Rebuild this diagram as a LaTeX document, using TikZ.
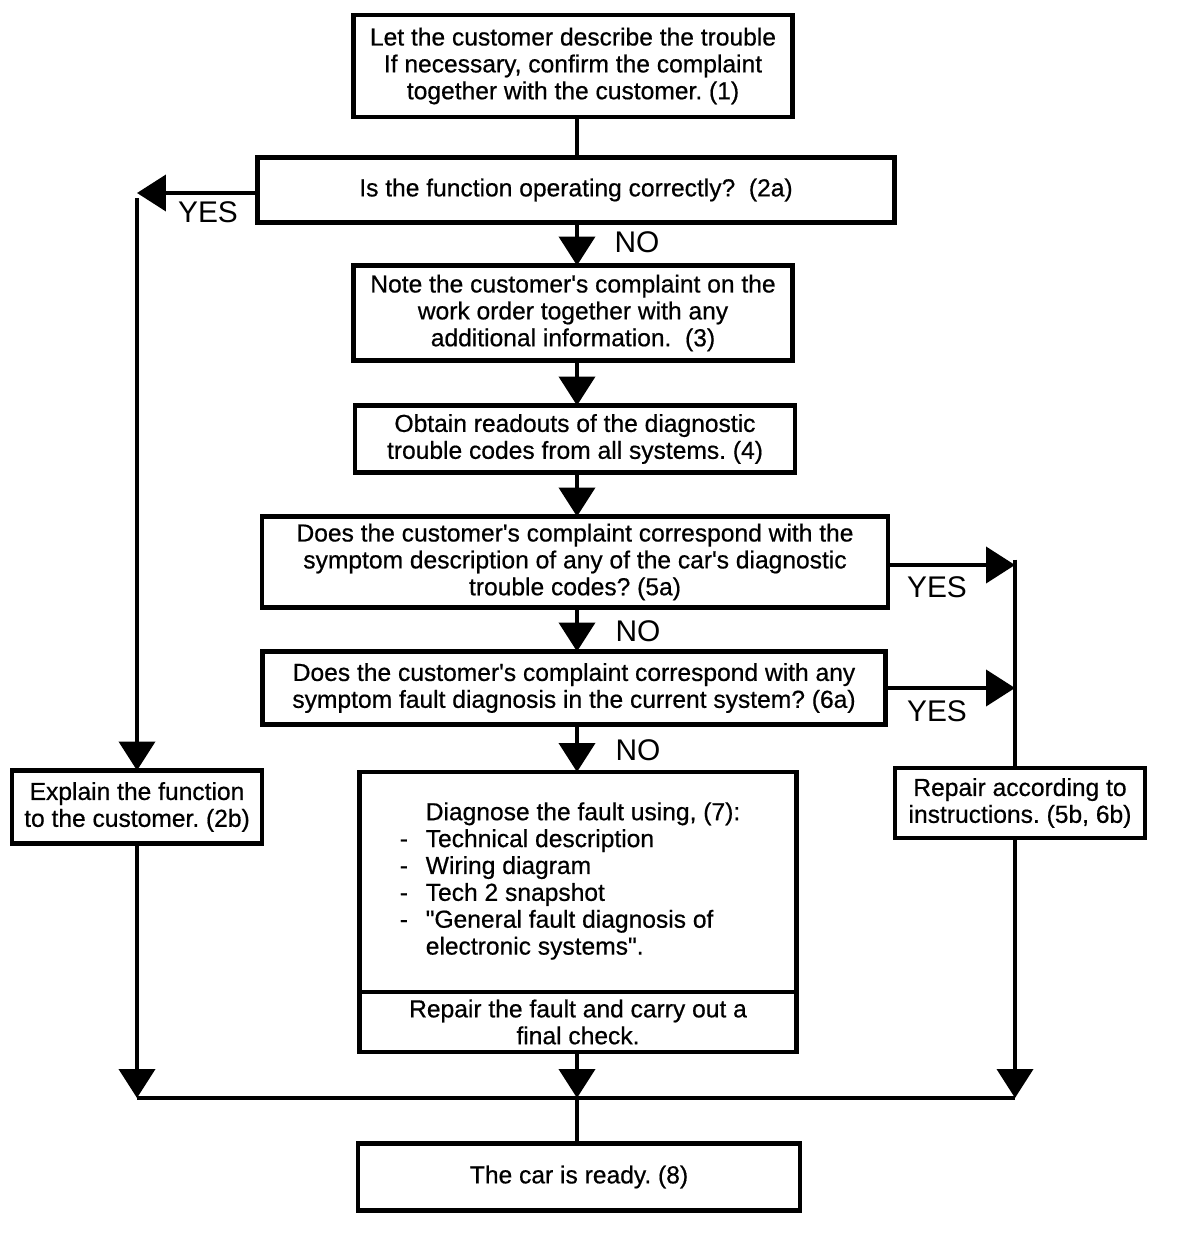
\documentclass[tikz,border=0pt]{standalone}
\usepackage{fontspec}
\setmainfont{Liberation Sans}
\newfontfamily\boxfont[FakeBold=0.6]{Liberation Sans}
\usetikzlibrary{arrows.meta}

\begin{document}
\begin{tikzpicture}[x=0.02cm, y=-0.02cm,
    box/.style={draw, line width=2.5pt, align=center, inner sep=0pt, outer sep=0pt,
        font=\boxfont\fontsize{14}{15.3}\selectfont\frenchspacing},
    arr/.style={line width=2.3pt, -{Triangle[length=0.58cm, width=0.72cm]}},
    lnk/.style={line width=2.3pt},
    lbl/.style={inner sep=0pt, font=\fontsize{17}{20}\selectfont}]
    \useasboundingbox (0,0) rectangle (1200,1236);

    \node[box, minimum width=8.78cm, minimum height=2.04cm] (start) at (573,66)
        {Let the customer describe the trouble\\If necessary, confirm the complaint\\together with the customer. (1)};
    \node[box, minimum width=12.74cm, minimum height=1.3cm] (q2a) at (576,190)
        {Is the function operating correctly?~~(2a)};
    \node[box, minimum width=8.78cm, minimum height=1.9cm] (note) at (573,313)
        {Note the customer's complaint on the\\work order together with any\\additional information.~~(3)};
    \node[box, minimum width=8.8cm, minimum height=1.34cm] (dtc) at (575,439)
        {Obtain readouts of the diagnostic\\trouble codes from all systems. (4)};
    \node[box, minimum width=12.52cm, minimum height=1.82cm] (q5a) at (575,562)
        {Does the customer's complaint correspond with the\\symptom description of any of the car's diagnostic\\trouble codes? (5a)};
    \node[box, minimum width=12.46cm, minimum height=1.46cm] (q6a) at (574,688)
        {Does the customer's complaint correspond with any\\symptom fault diagnosis in the current system? (6a)};
    \node[box, minimum width=8.74cm, minimum height=4.4cm] (diag) at (578,882)
        {\begin{tabular}{@{}p{0.52cm}@{}l@{\hspace{0.32cm}}}
            & Diagnose the fault using, (7):\\
            - & Technical description\\
            - & Wiring diagram\\
            - & Tech 2 snapshot\\
            - & \char34 General fault diagnosis of\\
            & electronic systems\char34.
        \end{tabular}};
    \node[box, minimum width=8.74cm, minimum height=1.2cm, anchor=north] (fix) at (diag.south)
        {Repair the fault and carry out a\\final check.};
    \node[box, minimum width=5cm, minimum height=1.46cm] (explain) at (137,807)
        {Explain the function\\to the customer. (2b)};
    \node[box, minimum width=5cm, minimum height=1.4cm] (repair) at (1020,803)
        {Repair according to\\instructions. (5b, 6b)};
    \node[box, minimum width=8.84cm, minimum height=1.34cm] (ready) at (579,1177)
        {The car is ready. (8)};

    \coordinate (col) at (577,0);
    \coordinate (ly) at (137,193);
    \coordinate (r5) at (1015,565);
    \coordinate (r6) at (1015,688);
    \coordinate (bl) at (137,1098);
    \coordinate (bm) at (577,1098);
    \coordinate (br) at (1015,1098);

    \draw[lnk] (start.south -| col) -- (q2a.north -| col);
    \draw[arr] (q2a.south -| col) -- (note.north -| col);
    \draw[arr] (note.south -| col) -- (dtc.north -| col);
    \draw[arr] (dtc.south -| col) -- (q5a.north -| col);
    \draw[arr] (q5a.south -| col) -- (q6a.north -| col);
    \draw[arr] (q6a.south -| col) -- (diag.north -| col);
    \draw[arr] (fix.south -| col) -- (bm);
    \draw[lnk] (bm) -- (ready.north -| col);
    \draw[lnk] (bl) -- (br);

    \draw[arr] (q2a.west |- ly) -- (ly);
    \draw[arr] ([yshift=-3pt]ly) -- (explain.north);
    \draw[arr] (explain.south) -- (bl);

    \draw[arr] (q5a.east |- r5) -- (r5);
    \draw[arr] (q6a.east |- r6) -- (r6);
    \draw[lnk] ([yshift=3pt]r5) -- (r5 |- repair.north);
    \draw[arr] (r5 |- repair.south) -- (br);

    \node[lbl] (yes2) at (208,212) {YES};
    \node[lbl] (no2) at (637,242) {NO};
    \node[lbl] (yes5) at (937,587) {YES};
    \node[lbl] (no5) at (638,631) {NO};
    \node[lbl] (yes6) at (937,711) {YES};
    \node[lbl] (no6) at (638,750) {NO};
\end{tikzpicture}
\end{document}
